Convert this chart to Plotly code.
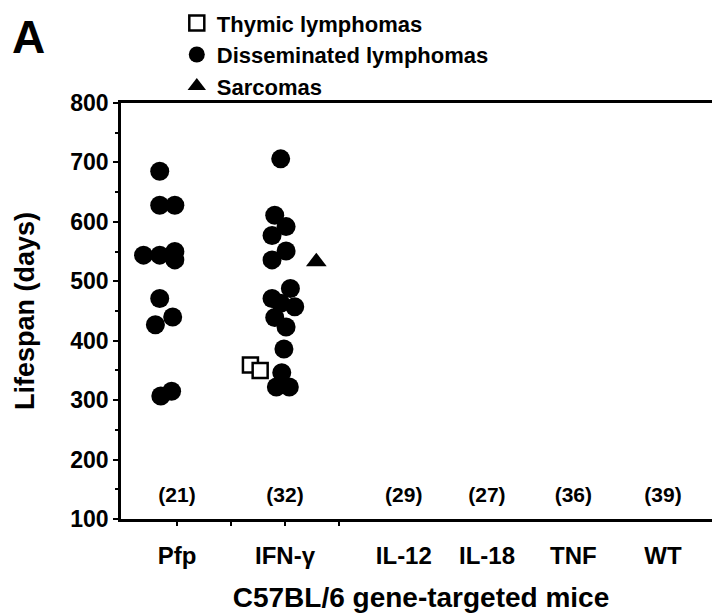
import plotly.graph_objects as go

# ---- data ----
categories = ["Pfp", "IFN-γ", "IL-12", "IL-18", "TNF", "WT"]
counts = ["(21)", "(32)", "(29)", "(27)", "(36)", "(39)"]

# Disseminated lymphomas (lifespan, days)
pfp_diss_days = [685, 628, 628, 544, 544, 550, 536, 471, 440, 427, 315, 307]
pfp_diss_jitter = [-0.16, -0.16, -0.02, -0.31, -0.16, -0.02, -0.02, -0.16, -0.04, -0.20, -0.05, -0.15]
ifn_diss_days = [706, 611, 592, 577, 551, 536, 488, 471, 463, 457, 439, 423, 386, 346, 322, 322]
ifn_diss_jitter = [-0.04, -0.095, 0.01, -0.12, 0.01, -0.12, 0.05, -0.12, -0.04, 0.09, -0.095, 0.01, -0.01, -0.03, -0.08, 0.04]

# Thymic lymphomas (IFN-γ)
ifn_thymic_days = [359, 350]
ifn_thymic_jitter = [-0.32, -0.23]

# Sarcomas (IFN-γ)
ifn_sarcoma_days = [533]
ifn_sarcoma_jitter = [0.29]

# layout helpers (category centres on a numeric axis)
cat_pos = [1, 2, 3.1, 3.87, 4.67, 5.5]
count_level = 137

FONT = "Liberation Sans, Arial, Helvetica, sans-serif"
B = "bold"

def xs(center, jit):
    return [center + j for j in jit]

fig = go.Figure()

fig.add_trace(go.Scatter(
    x=xs(cat_pos[1], ifn_thymic_jitter), y=ifn_thymic_days, mode="markers",
    name="Thymic lymphomas",
    marker=dict(symbol="square", size=15, color="white", line=dict(color="black", width=2.5)),
))
fig.add_trace(go.Scatter(
    x=xs(cat_pos[0], pfp_diss_jitter) + xs(cat_pos[1], ifn_diss_jitter),
    y=pfp_diss_days + ifn_diss_days, mode="markers",
    name="Disseminated lymphomas",
    marker=dict(symbol="circle", size=19, color="black", line=dict(width=0)),
))
fig.add_trace(go.Scatter(
    x=xs(cat_pos[1], ifn_sarcoma_jitter), y=ifn_sarcoma_days, mode="markers",
    name="Sarcomas",
    marker=dict(symbol="triangle-up", size=18, color="black", line=dict(width=0)),
))
fig.add_trace(go.Scatter(
    x=cat_pos, y=[count_level] * len(cat_pos), mode="text", text=counts,
    textfont=dict(family=FONT, size=21, color="black", weight=B),
    showlegend=False, hoverinfo="skip",
))

fig.update_layout(
    width=720, height=614,
    margin=dict(l=113, r=7, t=95, b=103, autoexpand=False),
    paper_bgcolor="white", plot_bgcolor="white",
    font=dict(family=FONT, size=22, color="black", weight=B),
    showlegend=True,
    legend=dict(
        x=0.093, y=1.2425, xanchor="left", yanchor="top",
        font=dict(family=FONT, size=22, color="black", weight=B),
        bgcolor="rgba(0,0,0,0)", tracegroupgap=0, itemwidth=30,
    ),
    xaxis=dict(
        range=[0.4815, 6.037], showgrid=False, zeroline=False, automargin=False,
        showline=True, linecolor="black", linewidth=2.5, mirror=True,
        tickmode="array", tickvals=cat_pos, ticktext=categories,
        ticks="", ticklabelstandoff=13,
        tickfont=dict(family=FONT, size=24, color="black", weight=B),
        minor=dict(tickvals=[1, 1.5, 2, 2.5], ticks="outside", ticklen=4, tickwidth=2, tickcolor="black"),
        title=dict(text="C57BL/6 gene-targeted mice",
                   font=dict(family=FONT, size=28, color="black", weight=B), standoff=20),
    ),
    yaxis=dict(
        range=[100, 800], showgrid=False, zeroline=False, automargin=False,
        showline=True, linecolor="black", linewidth=2.5, mirror=True,
        tickmode="array", tickvals=[100, 200, 300, 400, 500, 600, 700, 800],
        ticks="outside", ticklen=5, tickwidth=2, tickcolor="black",
        tickfont=dict(family=FONT, size=23, color="black", weight=B),
        minor=dict(tickvals=[150, 250, 350, 450, 550, 650, 750], ticks="outside",
                   ticklen=3, tickwidth=2, tickcolor="black"),
        title=dict(text="Lifespan (days)",
                   font=dict(family=FONT, size=27, color="black", weight=B), standoff=28),
    ),
    annotations=[
        dict(text="A", xref="paper", yref="paper", x=-0.185, y=1.226,
             xanchor="left", yanchor="top", showarrow=False,
             font=dict(family=FONT, size=46, color="black", weight=B)),
    ],
)

fig.write_html("out.html")
